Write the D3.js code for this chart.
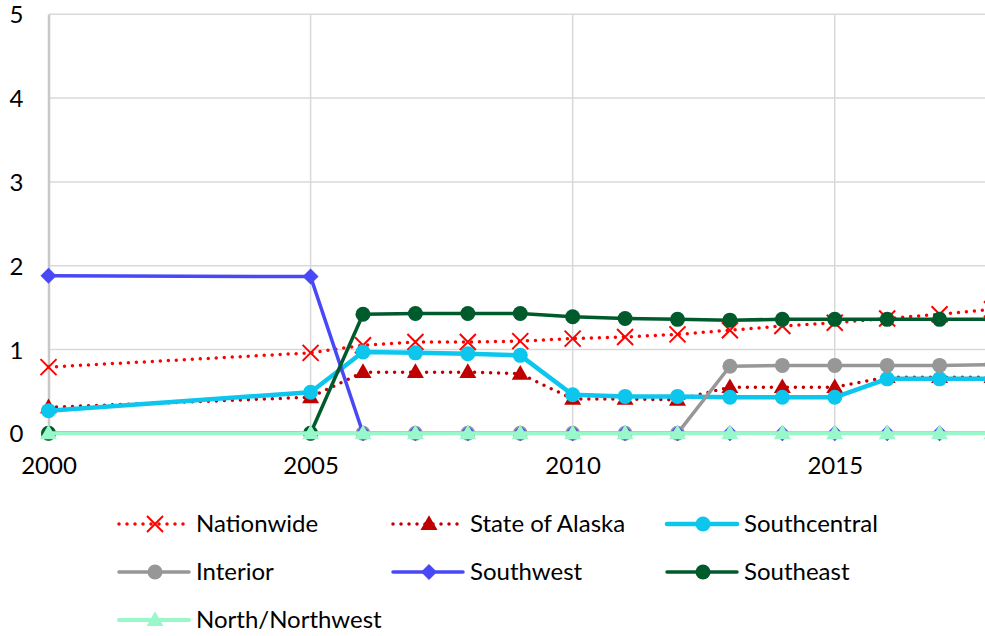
<!DOCTYPE html>
<html>
<head>
<meta charset="utf-8">
<script src="https://cdn.jsdelivr.net/npm/d3@7"></script>
<style>
  html, body { margin: 0; padding: 0; background: #fff; }
  svg { display: block; font-family: Lato, "Open Sans", sans-serif; }
</style>
</head>
<body>
<svg id="chart" width="985" height="636"></svg>
<script>
// Years on the horizontal axis
const years = [2000, 2005, 2006, 2007, 2008, 2009, 2010, 2011, 2012, 2013, 2014, 2015, 2016, 2017, 2018];

// Series values per year
const nationwide     = [0.79, 0.96, 1.05, 1.09, 1.09, 1.10, 1.13, 1.15, 1.18, 1.23, 1.28, 1.32, 1.37, 1.42, 1.48];
const stateOfAlaska  = [0.31, 0.43, 0.73, 0.73, 0.73, 0.71, 0.41, 0.41, 0.40, 0.55, 0.55, 0.55, 0.67, 0.67, 0.67];
const southcentral   = [0.27, 0.49, 0.97, 0.96, 0.95, 0.93, 0.46, 0.44, 0.44, 0.43, 0.43, 0.43, 0.65, 0.65, 0.65];
const interior       = [0, 0, 0, 0, 0, 0, 0, 0, 0, 0.80, 0.81, 0.81, 0.81, 0.81, 0.82];
const southwest      = [1.88, 1.87, 0, 0, 0, 0, 0, 0, 0, 0, 0, 0, 0, 0, 0];
const southeast      = [0, 0, 1.42, 1.43, 1.43, 1.43, 1.39, 1.37, 1.36, 1.35, 1.36, 1.36, 1.36, 1.36, 1.36];
const northNorthwest = [0, 0, 0, 0, 0, 0, 0, 0, 0, 0, 0, 0, 0, 0, 0];

// Axis ticks
const xTicks = [2000, 2005, 2010, 2015];
const yTicks = [0, 1, 2, 3, 4, 5];

const seriesNames = ["Nationwide", "State of Alaska", "Southcentral", "Interior", "Southwest", "Southeast", "North/Northwest"];
const seriesValues = [nationwide, stateOfAlaska, southcentral, interior, southwest, southeast, northNorthwest];

// Visual style per series
const styles = {
  "Nationwide":      { color: "#FF0000", width: 3.5, dotted: true,  marker: "x" },
  "State of Alaska": { color: "#C00000", width: 3.5, dotted: true,  marker: "triangle" },
  "Southcentral":    { color: "#0CC6EE", width: 4.5, dotted: false, marker: "circle" },
  "Interior":        { color: "#979797", width: 3.5, dotted: false, marker: "circle" },
  "Southwest":       { color: "#4848F6", width: 3.5, dotted: false, marker: "diamond" },
  "Southeast":       { color: "#005B2C", width: 3.5, dotted: false, marker: "circle" },
  "North/Northwest": { color: "#99F8C9", width: 4,   dotted: false, marker: "triangle" }
};

const svg = d3.select("#chart");

const x = d3.scaleLinear().domain([2000, 2018]).range([48.5, 992]);
const y = d3.scaleLinear().domain([0, 5]).range([433.3, 14.3]);

// Gridlines
const grid = svg.append("g");
grid.selectAll("line.h").data(yTicks.filter(d => d > 0)).join("line")
  .attr("x1", x(2000)).attr("x2", 985)
  .attr("y1", d => y(d)).attr("y2", d => y(d))
  .attr("stroke", "#D9D9D9").attr("stroke-width", 1.5);
grid.selectAll("line.v").data(xTicks.filter(d => d > 2000)).join("line")
  .attr("x1", d => x(d)).attr("x2", d => x(d))
  .attr("y1", y(5)).attr("y2", y(0))
  .attr("stroke", "#D9D9D9").attr("stroke-width", 1.5);

// Axes
const xAxis = d3.axisBottom(x).tickValues(xTicks).tickFormat(d3.format("d")).tickSize(0).tickPadding(24);
const yAxis = d3.axisLeft(y).tickValues(yTicks).tickFormat(d3.format("d")).tickSize(0).tickPadding(25);

const gx = svg.append("g").attr("transform", `translate(0,${y(0)})`).call(xAxis);
gx.select(".domain").attr("stroke", "#BFBFBF").attr("stroke-width", 2);
const gy = svg.append("g").attr("transform", `translate(${x(2000)},0)`).call(yAxis);
gy.select(".domain").attr("stroke", "#C8C8C8").attr("stroke-width", 2.5);
svg.selectAll(".tick text").attr("font-size", 24).attr("fill", "#000").attr("font-family", "Lato, sans-serif");
gy.selectAll(".tick text").attr("dy", "0.36em");

// Marker drawing
function drawMarker(g, type, color, cx, cy) {
  if (type === "circle") {
    g.append("circle").attr("cx", cx).attr("cy", cy).attr("r", 7.5).attr("fill", color);
  } else if (type === "triangle") {
    g.append("path").attr("d", d3.symbol(d3.symbolTriangle, 125)())
      .attr("transform", `translate(${cx},${cy + 1})`).attr("fill", color);
  } else if (type === "diamond") {
    g.append("path").attr("d", `M0,-8L8,0L0,8L-8,0Z`)
      .attr("transform", `translate(${cx},${cy})`).attr("fill", color);
  } else if (type === "x") {
    g.append("path").attr("d", "M-8,-8L8,8M-8,8L8,-8")
      .attr("transform", `translate(${cx},${cy})`)
      .attr("stroke", color).attr("stroke-width", 2).attr("fill", "none");
  }
}

const line = d3.line().x(d => x(d[0])).y(d => y(d[1]));

// Series lines and markers, in legend order
seriesNames.forEach((name, i) => {
  const st = styles[name];
  const pts = years.map((yr, j) => [yr, seriesValues[i][j]]);
  const g = svg.append("g");
  const p = g.append("path").datum(pts).attr("d", line)
    .attr("fill", "none").attr("stroke", st.color).attr("stroke-width", st.width)
    .attr("stroke-linejoin", "round");
  if (st.dotted) p.attr("stroke-dasharray", "0 8").attr("stroke-linecap", "round");
  pts.forEach(d => drawMarker(g, st.marker, st.color, x(d[0]), y(d[1])));
});

// Legend
const legendCols = [119, 393, 667];
const legendRows = [524, 572, 620];
const legend = svg.append("g");
seriesNames.forEach((name, i) => {
  const st = styles[name];
  const lx = legendCols[i % 3];
  const ly = legendRows[Math.floor(i / 3)];
  const g = legend.append("g");
  const l = g.append("line").attr("x1", lx).attr("x2", lx + 70).attr("y1", ly).attr("y2", ly)
    .attr("stroke", st.color).attr("stroke-width", st.width);
  if (st.dotted) l.attr("stroke-dasharray", "0 8").attr("stroke-linecap", "round");
  else l.attr("stroke-linecap", "round");
  drawMarker(g, st.marker, st.color, lx + 36, ly);
  g.append("text").attr("x", lx + 77).attr("y", ly).attr("dy", "0.35em")
    .attr("font-size", 24).attr("fill", "#000").text(name);
});
</script>
</body>
</html>
